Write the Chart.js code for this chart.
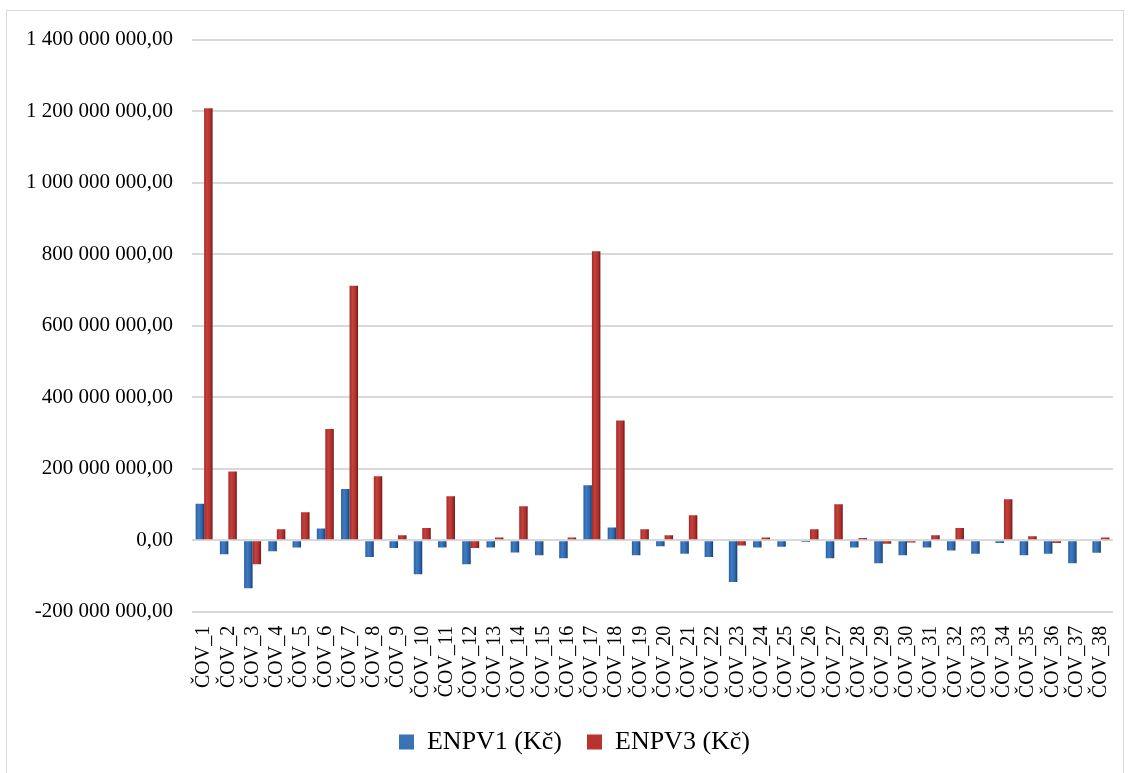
<!DOCTYPE html>
<html>
<head>
<meta charset="utf-8">
<script src="https://cdn.jsdelivr.net/npm/chart.js@4.4.1/dist/chart.umd.min.js"></script>
<style>
html,body{margin:0;padding:0;background:#fff;}
#box{position:absolute;left:6px;top:10px;width:1118px;height:765px;border:1px solid #d9d9d9;box-sizing:border-box;}
#c{display:block;position:absolute;left:0;top:-3px;}
</style>
</head>
<body>
<div id="box"><canvas id="c" width="1116" height="766"></canvas></div>
<script>
const categories = ["ČOV_1","ČOV_2","ČOV_3","ČOV_4","ČOV_5","ČOV_6","ČOV_7","ČOV_8","ČOV_9","ČOV_10","ČOV_11","ČOV_12","ČOV_13","ČOV_14","ČOV_15","ČOV_16","ČOV_17","ČOV_18","ČOV_19","ČOV_20","ČOV_21","ČOV_22","ČOV_23","ČOV_24","ČOV_25","ČOV_26","ČOV_27","ČOV_28","ČOV_29","ČOV_30","ČOV_31","ČOV_32","ČOV_33","ČOV_34","ČOV_35","ČOV_36","ČOV_37","ČOV_38"];
const enpv1 = [102e6,-39e6,-134e6,-31e6,-20e6,33e6,143e6,-47e6,-22e6,-95e6,-20e6,-67e6,-20e6,-34e6,-42e6,-50e6,154e6,36e6,-42e6,-17e6,-38e6,-47e6,-117e6,-20e6,-18e6,-5e6,-50e6,-20e6,-64e6,-42e6,-20e6,-29e6,-38e6,-8e6,-42e6,-38e6,-64e6,-35e6];
const enpv3 = [1208e6,192e6,-67e6,31e6,78e6,311e6,712e6,179e6,14e6,34e6,123e6,-22e6,8e6,95e6,0,8e6,808e6,335e6,31e6,14e6,70e6,0,-15e6,8e6,3e6,31e6,101e6,6e6,-10e6,-6e6,14e6,34e6,0,115e6,11e6,-8e6,0,8e6];
const seriesNames = ["ENPV1 (Kč)","ENPV3 (Kč)"];
const yTicks = {min:-200000000, max:1400000000, step:200000000};

const FONT = "'Liberation Serif','Times New Roman',serif";
const CAT_PCT = 0.70;

function fmt(v){
  const neg = v < 0;
  let s = Math.round(Math.abs(v)).toString();
  s = s.replace(/\B(?=(\d{3})+(?!\d))/g, " ");
  return (neg ? "-" : "") + s + ",00";
}

function barGradient(stops, solid, offsetSign){
  return function(ctx){
    const chart = ctx.chart;
    const xs = chart.scales && chart.scales.x;
    if (!xs || !chart.chartArea || ctx.dataIndex === undefined) return solid;
    const center = xs.getPixelForValue(ctx.dataIndex);
    const cw = xs.width / categories.length;
    const bw = cw * CAT_PCT / 2;
    const x0 = offsetSign < 0 ? center - bw : center;
    const x1 = x0 + bw;
    if (!isFinite(x0)) return solid;
    const g = chart.ctx.createLinearGradient(x0, 0, x1, 0);
    stops.forEach(s => g.addColorStop(s[0], s[1]));
    return g;
  };
}

const blueStops = [[0,"#2c5f9e"],[0.35,"#3f7cc4"],[0.75,"#2d64a8"],[1,"#173c6b"]];
const redStops = [[0,"#a52a27"],[0.35,"#c8403b"],[0.75,"#a8302c"],[1,"#6e1614"]];

// widen the y-axis label clip region to the canvas edge so labels can sit in the left padding
const yLabelRoom = {
  id: "yLabelRoom",
  afterLayout(chart){ chart.scales.y.left = 0; }
};

new Chart(document.getElementById("c"), {
  type: "bar",
  data: {
    labels: categories,
    datasets: [
      {label: seriesNames[0], data: enpv1, backgroundColor: barGradient(blueStops, "#3a72b8", -1), borderWidth: 0},
      {label: seriesNames[1], data: enpv3, backgroundColor: barGradient(redStops, "#b8322e", 1), borderWidth: 0}
    ]
  },
  plugins: [yLabelRoom],
  options: {
    responsive: false,
    animation: false,
    layout: {padding: {top: 15, right: 10, left: 29, bottom: 9}},
    datasets: {bar: {categoryPercentage: CAT_PCT, barPercentage: 1.0}},
    plugins: {
      legend: {
        position: "bottom",
        labels: {
          font: {family: FONT, size: 26},
          color: "#000",
          boxWidth: 15, boxHeight: 15, padding: 25,
          generateLabels: function(chart){
            const cols = ["#3a72b8","#b8322e"];
            return chart.data.datasets.map((d,i)=>({text:d.label, fillStyle:cols[i], strokeStyle:cols[i], lineWidth:0, datasetIndex:i, hidden:false, fontColor:"#000"}));
          }
        }
      },
      tooltip: {enabled: false}
    },
    scales: {
      x: {
        grid: {display: false},
        border: {display: false},
        afterFit: s => { s.paddingRight = 0; },
        ticks: {
          font: {family: FONT, size: 20},
          color: "#000",
          minRotation: 90, maxRotation: 90,
          autoSkip: false,
          padding: 6
        }
      },
      y: {
        min: yTicks.min, max: yTicks.max,
        border: {display: false},
        grid: {color: "#d9d9d9", lineWidth: 2, drawTicks: false},
        afterFit: s => { s.width = 156; },
        ticks: {
          stepSize: yTicks.step,
          font: {family: FONT, size: 21},
          color: "#000",
          padding: 19,
          callback: v => fmt(v)
        }
      }
    }
  }
});
</script>
</body>
</html>
